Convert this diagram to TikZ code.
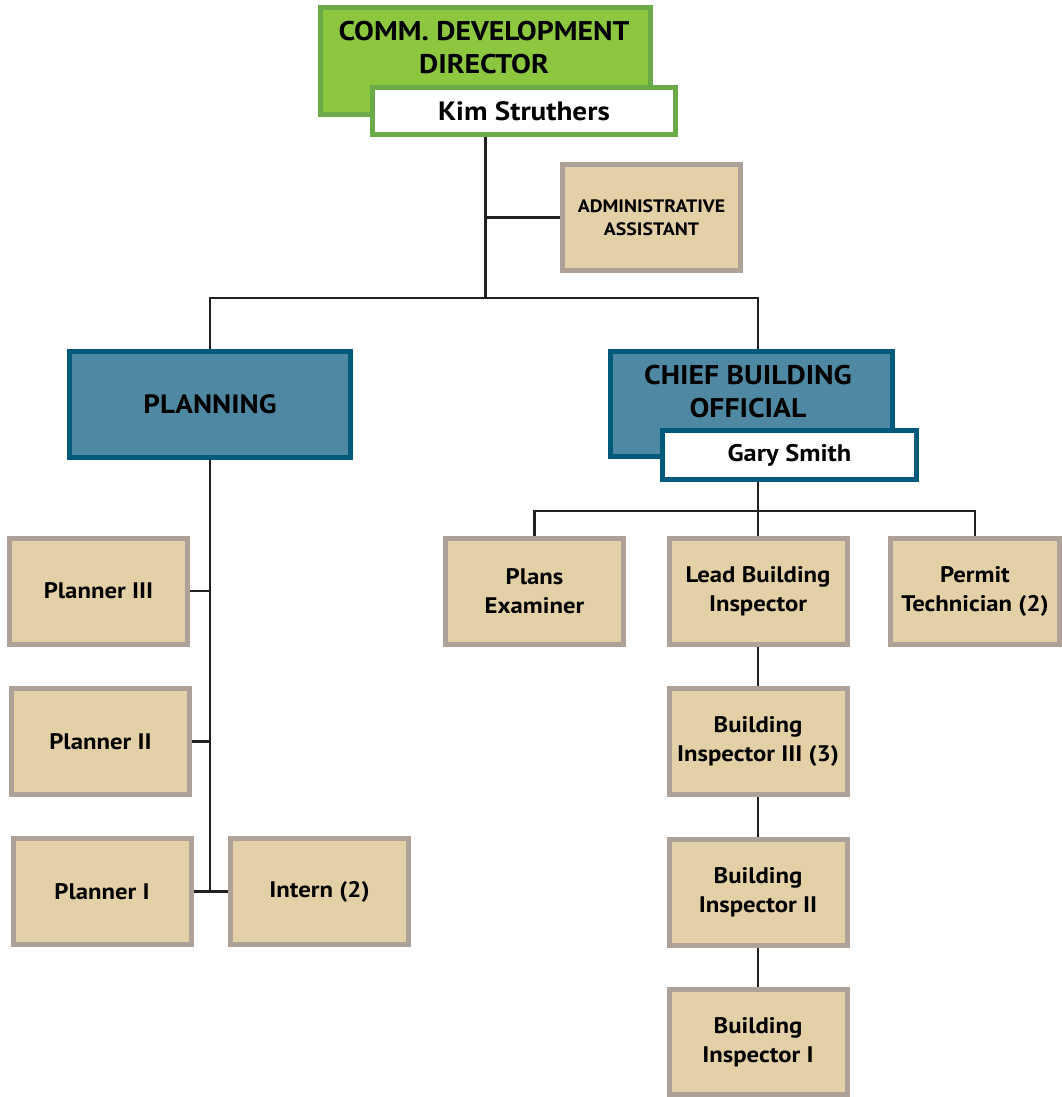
\documentclass[tikz,border=0pt]{standalone}
\usepackage{fontspec}
\setmainfont{PT Sans}[FakeStretch=1.1]
\usetikzlibrary{backgrounds}
\definecolor{grfill}{HTML}{8DC63F}
\definecolor{grline}{HTML}{6AAB47}
\definecolor{blfill}{HTML}{4F88A3}
\definecolor{blline}{HTML}{005A7C}
\definecolor{tnfill}{HTML}{E3D0A6}
\definecolor{tnline}{HTML}{AEA198}
\definecolor{conn}{HTML}{231F20}
\begin{document}
\begin{tikzpicture}[x=1pt,y=-1pt,
  box/.style={draw, line width=5pt, inner sep=0pt, align=center},
  tan/.style={box, fill=tnfill, draw=tnline, minimum width=178pt, minimum height=106pt,
    font=\fontsize{22.5}{29}\selectfont\bfseries},
  head/.style={box, fill=blfill, draw=blline, font=\fontsize{26.5}{32}\selectfont\bfseries},
  green/.style={box, fill=grfill, draw=grline},
  namebox/.style={box, fill=white},
  lbl/.style={align=center, inner sep=0pt, font=\fontsize{27}{33}\selectfont\bfseries},
  link/.style={draw=conn, line width=2.5pt}]
\useasboundingbox (0,0) rectangle (1062,1097);

% top
\node[green, minimum width=330pt, minimum height=107pt] (dir) at (485.5,61) {};
\node[lbl] (dirlbl) at (484,47.5) {COMM. DEVELOPMENT\\DIRECTOR};
\node[namebox, draw=grline, minimum width=303pt, minimum height=47pt,
  font=\fontsize{26.5}{32}\selectfont\bfseries] (kim) at (524,111) {Kim Struthers};

\node[tan, font=\fontsize{18}{23}\selectfont\bfseries] (admin) at (651.5,217.5) {ADMINISTRATIVE\\ASSISTANT};

% second level
\node[head, minimum width=281pt, minimum height=106pt] (plan) at (210,404.5) {PLANNING};
\node[head, minimum width=282pt, minimum height=105pt] (cbo) at (751.5,404) {};
\node[lbl] (cbolbl) at (748,392) {CHIEF BUILDING\\OFFICIAL};
\node[namebox, draw=blline, minimum width=254pt, minimum height=49pt,
  font=\fontsize{24}{30}\selectfont\bfseries] (gary) at (789.5,455) {Gary Smith};

% planning staff
\node[tan] (p3) at (98.5,591) {Planner III};
\node[tan] (p2) at (100.5,741.5) {Planner II};
\node[tan] (p1) at (102,891.5) {Planner I};
\node[tan] (intern) at (319.5,891.5) {Intern (2)};

% building staff
\node[tan] (pe) at (534.5,591.5) {Plans\\Examiner};
\node[tan] (lbi) at (758,591.5) {Lead Building\\Inspector};
\node[tan, minimum width=169pt] (pt) at (975,591.5) {Permit\\Technician (2)};
\node[tan] (bi3) at (758,741.5) {Building\\Inspector III (3)};
\node[tan] (bi2) at (758,892) {Building\\Inspector II};
\node[tan, minimum height=105pt] (bi1) at (758,1042) {Building\\Inspector I};

\coordinate (hub) at (485.5,298);
\coordinate (cbus) at (758,511);

\begin{scope}[on background layer]
  \draw[link] (kim.south -| hub) -- (hub);
  \draw[link] (admin.west) -- (admin.west -| hub);
  \draw[link] (plan.north) -- (plan.north |- hub) -- (lbi.north |- hub) -- (lbi.north |- cbo.north);
  \draw[link] (gary.south -| lbi) -- (lbi.north);
  \draw[link] (pe.north) -- (pe.north |- cbus) -- (pt.north |- cbus) -- (pt.north);
  \draw[link] (plan.south) -- (plan.south |- p1.east);
  \draw[link] (p3.east) -- (p3.east -| plan);
  \draw[link] (p2.east) -- (p2.east -| plan);
  \draw[link] (p1.east) -- (intern.west);
  \draw[link] (lbi.south) -- (bi3.north);
  \draw[link] (bi3.south) -- (bi2.north);
  \draw[link] (bi2.south) -- (bi1.north);
\end{scope}
\end{tikzpicture}
\end{document}
